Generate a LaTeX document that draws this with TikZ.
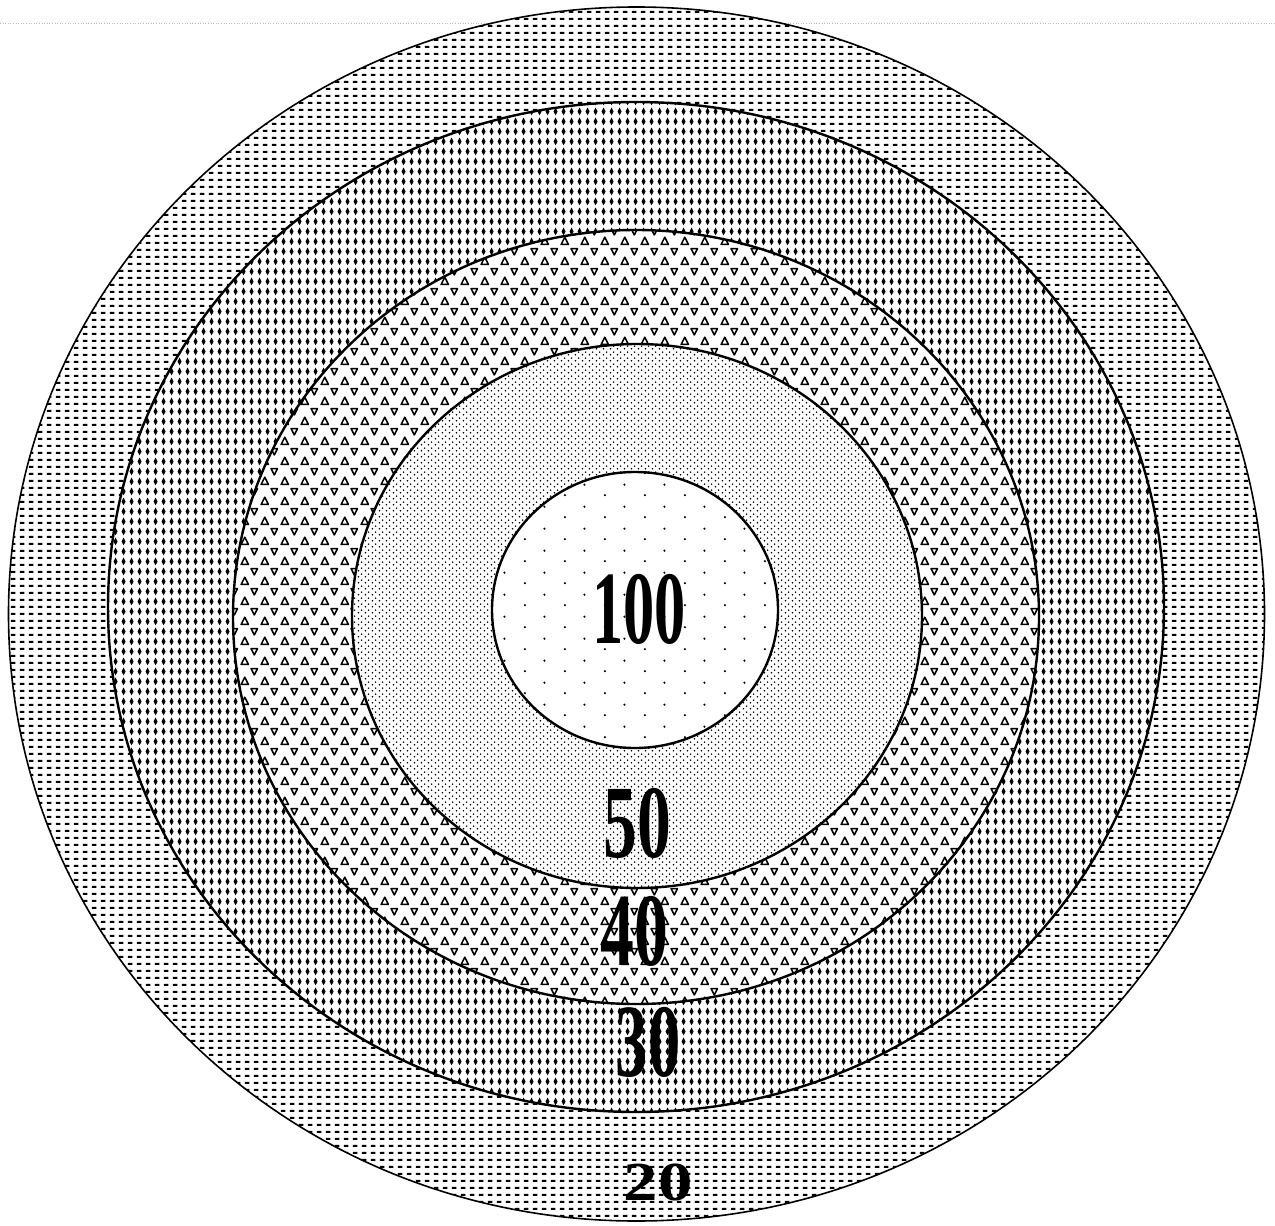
\documentclass[tikz,border=0pt]{standalone}
\usepackage{fontspec}
\setmainfont{Liberation Serif}
\usepackage{graphicx}
\usetikzlibrary{patterns.meta}

% outer zone: short horizontal dashes
\pgfdeclarepattern{
  name=hdash,
  bottom left={\pgfpoint{0pt}{0pt}},
  top right={\pgfpoint{9pt}{7pt}},
  tile size={\pgfpoint{9pt}{7pt}},
  code={
    \pgfpathrectangle{\pgfpoint{2pt}{2.3pt}}{\pgfpoint{5pt}{2.4pt}}
    \pgfusepath{fill}
  }
}
% 30 zone: small vertical diamonds
\pgfdeclarepattern{
  name=vdiam,
  bottom left={\pgfpoint{0pt}{0pt}},
  top right={\pgfpoint{8pt}{10pt}},
  tile size={\pgfpoint{8pt}{10pt}},
  code={
    \pgfpathmoveto{\pgfpoint{4pt}{0.8pt}}
    \pgfpathlineto{\pgfpoint{6.3pt}{5pt}}
    \pgfpathlineto{\pgfpoint{4pt}{9.2pt}}
    \pgfpathlineto{\pgfpoint{1.7pt}{5pt}}
    \pgfpathclose
    \pgfusepath{fill}
  }
}
% 40 zone: outlined up / down triangles
\pgfdeclarepattern{
  name=tris,
  bottom left={\pgfpoint{0pt}{0pt}},
  top right={\pgfpoint{20pt}{20pt}},
  tile size={\pgfpoint{20pt}{20pt}},
  code={
    \pgfsetlinewidth{1.6pt}
    \pgfsetroundjoin
    \pgfpathmoveto{\pgfpoint{1.2pt}{1.6pt}}
    \pgfpathlineto{\pgfpoint{8.8pt}{1.6pt}}
    \pgfpathlineto{\pgfpoint{5pt}{9.2pt}}
    \pgfpathclose
    \pgfpathmoveto{\pgfpoint{11.6pt}{18.2pt}}
    \pgfpathlineto{\pgfpoint{18.4pt}{18.2pt}}
    \pgfpathlineto{\pgfpoint{15pt}{11.6pt}}
    \pgfpathclose
    \pgfusepath{stroke}
  }
}
% 50 zone: fine dots
\pgfdeclarepattern{
  name=finedots,
  bottom left={\pgfpoint{0pt}{0pt}},
  top right={\pgfpoint{7pt}{6pt}},
  tile size={\pgfpoint{7pt}{6pt}},
  code={
    \pgfpathcircle{\pgfpoint{1.75pt}{1.5pt}}{1pt}
    \pgfpathcircle{\pgfpoint{5.25pt}{4.5pt}}{1pt}
    \pgfusepath{fill}
  }
}
% 100 zone: sparse dots
\pgfdeclarepattern{
  name=sparsedots,
  bottom left={\pgfpoint{0pt}{0pt}},
  top right={\pgfpoint{40pt}{22pt}},
  tile size={\pgfpoint{40pt}{22pt}},
  code={
    \pgfpathcircle{\pgfpoint{5pt}{5pt}}{1.2pt}
    \pgfpathcircle{\pgfpoint{25pt}{16pt}}{1.2pt}
    \pgfusepath{fill}
  }
}

\begin{document}
\begin{tikzpicture}[x=1pt,y=-1pt,
  ringline/.style={draw=black,line width=2.4pt},
  lbl/.style={inner sep=0pt,font=\fontsize{104}{104}\selectfont\bfseries},
  zone/.style={preaction={fill=white},pattern={#1},pattern color=black}]
\useasboundingbox (0,0) rectangle (1275,1226);
\fill[white] (0,0) rectangle (1275,1226);

% faint scan line along the top
\coordinate (sl) at (0,23);
\coordinate (sr) at (1275,23);
\draw[gray!55,dotted,line width=0.6pt] (sl) -- (sr);

\coordinate (c1) at (636.5,614);
\coordinate (c2) at (636,607);
\coordinate (c3) at (636,617);
\coordinate (c4) at (637,616);
\coordinate (c5) at (635,610);

\path[zone=hdash] (c1) ellipse [x radius=628, y radius=607];
\draw[draw=black,line width=1.6pt] (c1) ellipse [x radius=628, y radius=607];

\path[zone=vdiam] (c2) ellipse [x radius=528, y radius=505];
\draw[ringline] (c2) ellipse [x radius=528, y radius=505];

\path[zone=tris] (c3) ellipse [x radius=403, y radius=387];
\draw[ringline] (c3) ellipse [x radius=403, y radius=387];

\path[zone=finedots] (c4) ellipse [x radius=285, y radius=272];
\draw[ringline] (c4) ellipse [x radius=285, y radius=272];

\path[zone=sparsedots] (c5) ellipse [x radius=143, y radius=138];
\draw[ringline] (c5) ellipse [x radius=143, y radius=138];

\node[lbl] (l100) at (639,609) {\scalebox{0.6}[1]{100}};
\node[lbl] (l50) at (637,823) {\scalebox{0.65}[1]{50}};
\node[lbl] (l40) at (634,931) {\scalebox{0.65}[1]{40}};
\node[lbl] (l30) at (648,1042) {\scalebox{0.62}[1]{30}};
\node[inner sep=0pt,font=\fontsize{55}{55}\selectfont\bfseries] (l20) at (658,1182) {\scalebox{1.25}[1]{20}};
\end{tikzpicture}
\end{document}
